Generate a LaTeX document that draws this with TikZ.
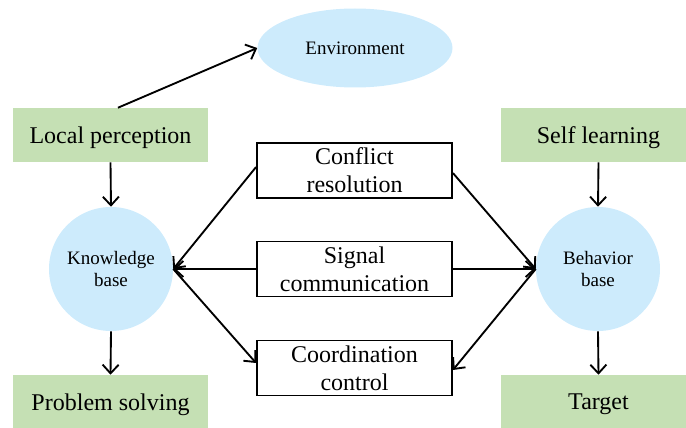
\documentclass[tikz,border=0pt]{standalone}
\usepackage{fontspec}
\setmainfont{Liberation Serif}
\usetikzlibrary{shapes.geometric,arrows.meta}
\definecolor{boxgreen}{RGB}{197,224,180}
\definecolor{bubble}{RGB}{205,235,252}
\begin{document}
\begin{tikzpicture}[x=0.75pt,y=-0.75pt,
  greenbox/.style={rectangle,fill=boxgreen,minimum width=146.25pt,minimum height=40.5pt,inner sep=0pt,text depth=0pt,font=\fontsize{18pt}{21pt}\selectfont},
  midbox/.style={rectangle,draw,line width=1.4pt,fill=white,minimum width=146.25pt,minimum height=41.25pt,inner sep=0pt,align=center,font=\fontsize{18pt}{21pt}\selectfont},
  basecircle/.style={circle,fill=bubble,minimum size=93pt,inner sep=0pt,align=center,font=\fontsize{14.25pt}{16.5pt}\selectfont},
  link/.style={line width=1.4pt,-{Straight Barb[length=6.5pt,width=12pt,line width=1.4pt]}}]
\clip (0,0) rectangle (686,428);

% environment
\node[ellipse,fill=bubble,minimum width=146.25pt,minimum height=59.25pt,inner sep=0pt,font=\fontsize{14.25pt}{16.5pt}\selectfont] (env) at (355,48) {Environment};

% outer boxes
\node[greenbox] (lp) at (110.5,135) {Local perception};
\node[greenbox] (ps) at (110.5,402) {Problem solving};
\node[greenbox] (sl) at (598.5,135) {Self learning};
\node[greenbox] (tg) at (598.5,402) {Target};

% knowledge and behaviour bases
\node[basecircle] (kb) at (111,269) {Knowledge\\base};
\node[basecircle] (bb) at (598,269) {Behavior\\base};

% middle boxes
\node[midbox] (cr) at (354.5,170.5) {Conflict\\resolution};
\node[midbox] (sc) at (354.5,269) {Signal\\communication};
\node[midbox] (cm) at (354.5,368) {Coordination\\control};

% connectors
\draw[link] ([xshift=5.6pt]lp.north) -- (env.west);
\draw[link] (lp.south) -- (kb.north);
\draw[link] (kb.south) -- (ps.north);
\draw[link] (sl.south) -- (bb.north);
\draw[link] (bb.south) -- (tg.north);

\draw[link] ([yshift=2.6pt]cr.west) -- (kb.east);
\draw[link] (sc.west) -- (kb.east);
\draw[link] (kb.east) -- ([yshift=3.75pt]cm.west);

\draw[link] ([yshift=-1.9pt]cr.east) -- (bb.west);
\draw[link] (sc.east) -- (bb.west);
\draw[link] (bb.west) -- ([yshift=-1.5pt]cm.east);
\end{tikzpicture}
\end{document}
